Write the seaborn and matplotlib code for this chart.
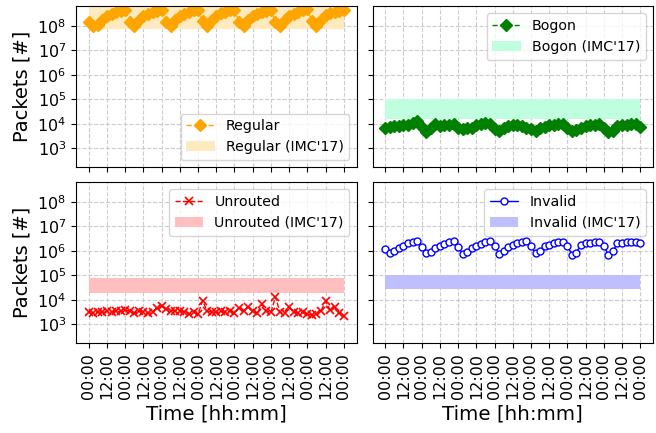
import matplotlib
matplotlib.use("Agg")
import matplotlib.pyplot as plt
import matplotlib.ticker as mticker
import numpy as np
import seaborn as sns

sns.set_style("ticks", {"axes.edgecolor": "black", "xtick.color": "black",
                        "ytick.color": "black", "text.color": "black",
                        "axes.labelcolor": "black"})
plt.rcParams["font.family"] = ["DejaVu Sans"]

# 3-hourly samples over one week
hours = np.arange(0, 169, 3)
tick_hours = np.arange(0, 169, 12)
tick_labels = ["00:00", "12:00"] * 7 + ["00:00"]

regular = [1.4e8, 1.0e8, 1.1e8, 1.8e8, 2.6e8, 3.2e8, 3.7e8, 4.2e8,
           4.6e8, 1.5e8, 9.5e7, 1.7e8, 2.6e8, 3.2e8, 3.7e8, 4.2e8,
           4.5e8, 1.5e8, 9.5e7, 1.7e8, 2.6e8, 3.2e8, 3.8e8, 4.3e8,
           4.5e8, 1.6e8, 9.5e7, 1.7e8, 2.6e8, 3.3e8, 3.8e8, 4.3e8,
           4.5e8, 1.5e8, 9.5e7, 1.7e8, 2.6e8, 3.2e8, 3.7e8, 4.2e8,
           4.4e8, 1.5e8, 9.5e7, 1.7e8, 2.6e8, 3.2e8, 3.8e8, 4.3e8,
           4.8e8, 1.6e8, 1.0e8, 1.8e8, 2.7e8, 3.3e8, 3.8e8, 4.2e8,
           4.4e8]
bogon = [6.9e3, 7.2e3, 7.8e3, 8.0e3, 8.5e3, 9.0e3, 1.1e4, 1.25e4,
         7.5e3, 4.5e3, 7.0e3, 9.5e3, 8.0e3, 8.5e3, 9.0e3, 9.5e3,
         6.5e3, 6.0e3, 6.5e3, 7.0e3, 8.5e3, 1.0e4, 1.05e4, 9.5e3,
         6.0e3, 5.0e3, 6.5e3, 8.0e3, 8.5e3, 8.5e3, 8.0e3, 7.0e3,
         6.0e3, 5.3e3, 6.5e3, 7.5e3, 8.5e3, 9.0e3, 9.5e3, 9.5e3,
         7.0e3, 5.0e3, 5.5e3, 7.0e3, 8.0e3, 8.5e3, 8.5e3, 9.5e3,
         7.0e3, 4.5e3, 5.0e3, 8.0e3, 9.0e3, 9.0e3, 9.5e3, 9.5e3,
         7.5e3]
unrouted = [3.0e3, 2.8e3, 3.2e3, 3.0e3, 3.3e3, 3.2e3, 3.4e3, 3.3e3,
            3.8e3, 3.3e3, 2.9e3, 3.5e3, 3.0e3, 2.8e3, 3.0e3, 4.5e3,
            5.5e3, 4.0e3, 3.6e3, 3.5e3, 3.3e3, 3.2e3, 2.7e3, 3.0e3,
            2.6e3, 9.0e3, 3.4e3, 3.2e3, 3.0e3, 3.3e3, 3.1e3, 3.4e3,
            2.9e3, 4.5e3, 3.5e3, 5.0e3, 3.3e3, 2.8e3, 6.5e3, 3.5e3,
            3.0e3, 1.3e4, 3.0e3, 2.8e3, 5.0e3, 3.2e3, 2.8e3, 3.0e3,
            2.5e3, 2.4e3, 2.5e3, 3.5e3, 8.5e3, 3.8e3, 5.0e3, 2.8e3,
            2.2e3]
invalid = [1.15e6, 8.5e5, 9.5e5, 1.3e6, 1.6e6, 2.0e6, 2.3e6, 2.5e6,
           1.4e6, 8.0e5, 9.0e5, 1.3e6, 1.6e6, 1.9e6, 2.2e6, 2.4e6,
           1.4e6, 7.5e5, 9.0e5, 1.3e6, 1.6e6, 1.9e6, 2.2e6, 2.4e6,
           1.5e6, 7.5e5, 9.5e5, 1.4e6, 1.7e6, 2.0e6, 2.3e6, 2.4e6,
           1.5e6, 8.0e5, 1.0e6, 1.5e6, 1.8e6, 2.0e6, 2.2e6, 2.3e6,
           1.6e6, 7.0e5, 8.5e5, 1.8e6, 2.1e6, 2.1e6, 2.2e6, 2.3e6,
           1.6e6, 7.0e5, 1.0e6, 2.0e6, 2.1e6, 2.2e6, 2.2e6, 2.3e6,
           2.0e6]

# IMC'17 reference ranges (low, high)
regular_band = (7.8e7, 2e9)
bogon_band = (1.6e4, 1.0e5)
unrouted_band = (1.8e4, 8.0e4)
invalid_band = (2.8e4, 1.05e5)

fig, axes = plt.subplots(2, 2, figsize=(6.56, 4.33), dpi=100,
                         sharex=True, sharey=True)
fig.subplots_adjust(left=0.1159, right=0.9954, top=0.986, bottom=0.2079,
                    wspace=0.057, hspace=0.093)

panels = [
    (axes[0, 0], "Regular", regular, regular_band, "orange", "#ffe9bf",
     dict(marker="D", linestyle="--", markersize=6, linewidth=1,
          markeredgecolor="orange", markeredgewidth=1), "lower right"),
    (axes[0, 1], "Bogon", bogon, bogon_band, "green", "#bfffdf",
     dict(marker="D", linestyle="--", markersize=6, linewidth=1,
          markeredgecolor="green", markeredgewidth=1), "upper right"),
    (axes[1, 0], "Unrouted", unrouted, unrouted_band, "red", "#ffbfbf",
     dict(marker="x", linestyle="--", markersize=6, linewidth=1,
          markeredgecolor="red", markeredgewidth=1.2), "upper right"),
    (axes[1, 1], "Invalid", invalid, invalid_band, "blue", "#bfbfff",
     dict(marker="o", linestyle="-", markersize=5, linewidth=1,
          markerfacecolor="white", markeredgecolor="blue", markeredgewidth=1),
     "upper right"),
]

for ax, name, values, band, color, band_color, style, loc in panels:
    sns.lineplot(x=hours, y=values, ax=ax, color=color, label=name, **style)
    ax.fill_between([hours[0], hours[-1]], band[0], band[1], color=band_color,
                    linewidth=0, label=name + " (IMC'17)")
    ax.set_yscale("log")
    ax.grid(True, which="major", linestyle="--", color="#cccccc", linewidth=0.8)
    ax.legend(loc=loc, fontsize=10.2, framealpha=0.8)

ax0 = axes[0, 0]
ax0.set_ylim(170, 6.5e8)
ax0.set_yticks([1e3, 1e4, 1e5, 1e6, 1e7, 1e8])
ax0.yaxis.set_minor_locator(mticker.NullLocator())
ax0.set_xticks(tick_hours)
ax0.set_xticklabels(tick_labels)

for ax in axes.flat:
    ax.tick_params(labelsize=11.5)
for ax in axes[1]:
    ax.tick_params(axis="x", labelrotation=90)
    ax.set_xlabel("Time [hh:mm]", fontsize=14.3)
for ax in axes[:, 0]:
    ax.set_ylabel("Packets [#]", fontsize=14)
for ax in axes[0]:
    ax.set_xlabel("")
for ax in axes[:, 1]:
    ax.set_ylabel("")

fig.savefig("out.png", dpi=100)
